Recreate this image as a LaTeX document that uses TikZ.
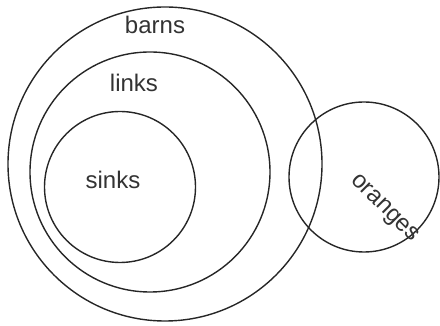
\documentclass[tikz,border=0pt]{standalone}
\usepackage{fontspec}
\setmainfont{Liberation Sans}
\usetikzlibrary{positioning}

\begin{document}
\begin{tikzpicture}[x=1pt, y=1pt,
	set/.style={draw=black!85, line width=1.4pt, circle, inner sep=0pt},
	lbl/.style={text=black!80, font=\fontsize{24}{27}\selectfont, inner sep=0pt}]
	\useasboundingbox (0,0) rectangle (440,326);
	% the sets
	\node[set, minimum size=314pt] (barns) at (165,162) {};
	\node[set, minimum size=240pt] (links) at (150,154) {};
	\node[set, minimum size=151pt] (sinks) at (120,139) {};
	\node[set, minimum size=150pt] (oranges) at (364,149) {};
	% their names
	\node[lbl] (barnsname) at (155,301) {barns};
	\node[lbl] (linksname) at (134,243) {links};
	\node[lbl] (sinksname) at (113,146) {sinks};
	\node[lbl, rotate=-45] (orangesname) at (384,117) {oranges};
\end{tikzpicture}
\end{document}
